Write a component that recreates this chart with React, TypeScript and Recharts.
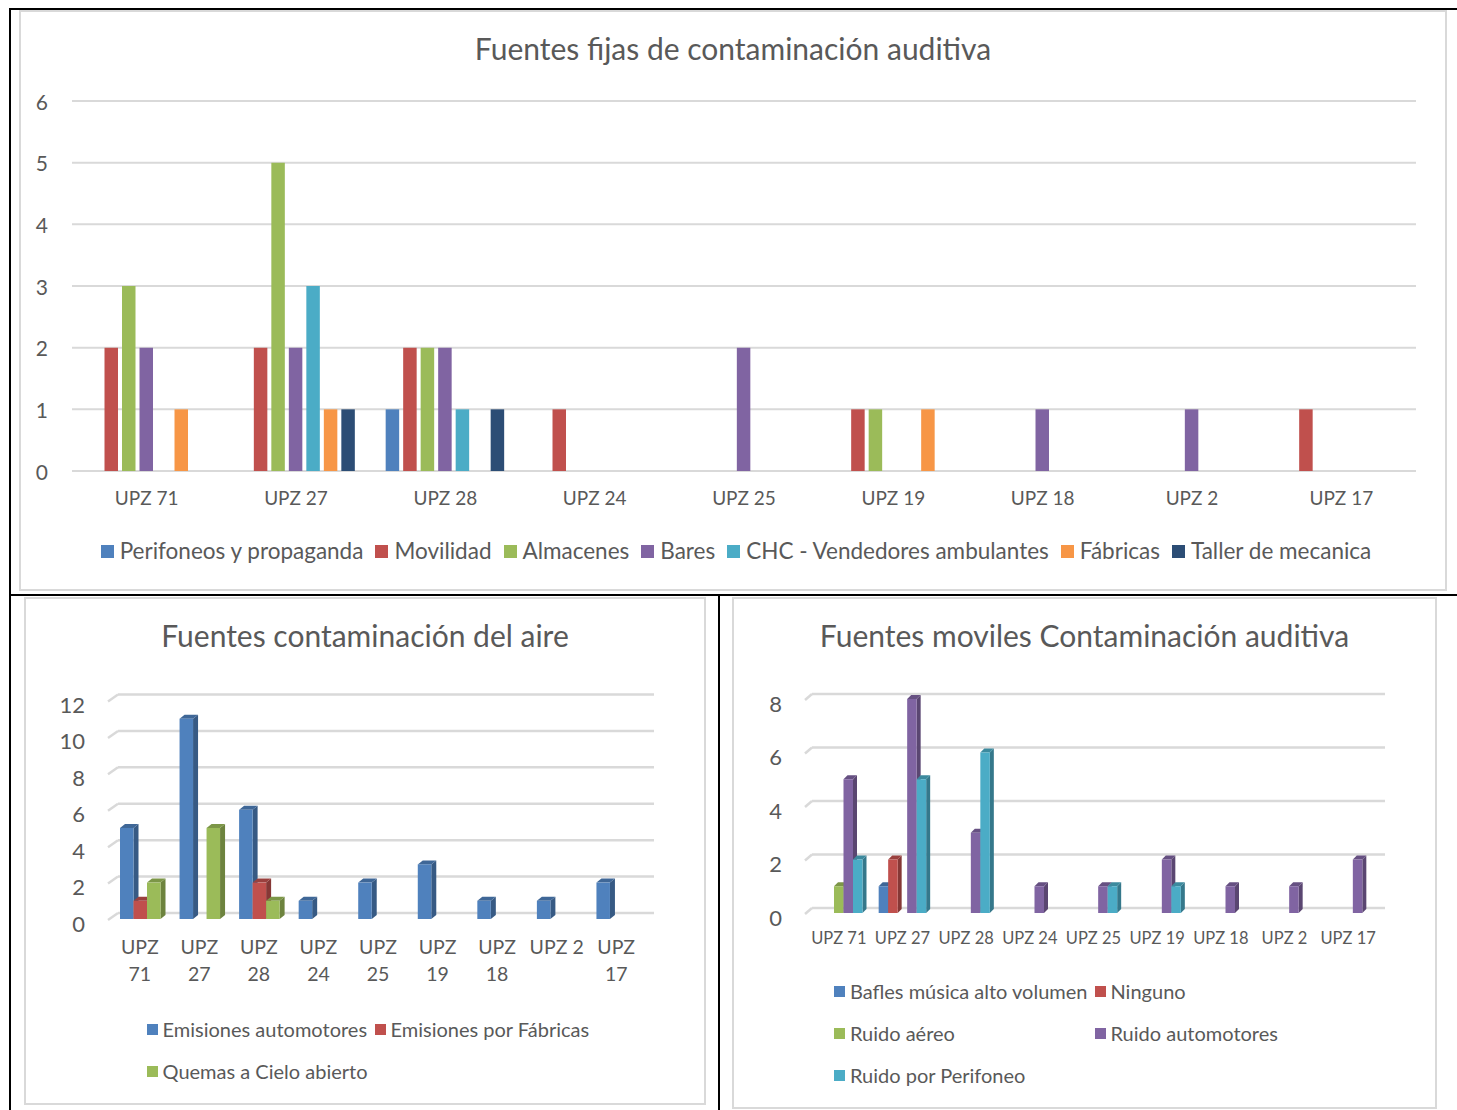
import React from 'react';
import { BarChart, Bar, XAxis, YAxis, CartesianGrid, Legend } from 'recharts';

const FONT = 'Lato, Carlito, Calibri, "Noto Sans", sans-serif';
const TEXT_COLOR = '#595959';
const GRID_COLOR = '#d9d9d9';

// ---------- shared categories ----------
const categories = ['UPZ 71', 'UPZ 27', 'UPZ 28', 'UPZ 24', 'UPZ 25', 'UPZ 19', 'UPZ 18', 'UPZ 2', 'UPZ 17'];

// ---------- chart 1: Fuentes fijas ----------
const fijasTitle = 'Fuentes fijas de contaminación auditiva';
const fijasNames = ['Perifoneos y propaganda', 'Movilidad', 'Almacenes', 'Bares', 'CHC - Vendedores ambulantes', 'Fábricas', 'Taller de mecanica'];
const fijasColors = ['#4F81BD', '#C0504D', '#9BBB59', '#8064A2', '#4BACC6', '#F79646', '#2C4D75'];
const perifoneos = [0, 0, 1, 0, 0, 0, 0, 0, 0];
const movilidad = [2, 2, 2, 1, 0, 1, 0, 0, 1];
const almacenes = [3, 5, 2, 0, 0, 1, 0, 0, 0];
const bares = [2, 2, 2, 0, 2, 0, 1, 1, 0];
const chcVendedores = [0, 3, 1, 0, 0, 0, 0, 0, 0];
const fabricas = [1, 1, 0, 0, 0, 1, 0, 0, 0];
const tallerMecanica = [0, 1, 1, 0, 0, 0, 0, 0, 0];
const fijasTicks = [0, 1, 2, 3, 4, 5, 6];

// ---------- chart 2: Fuentes contaminación del aire ----------
const aireTitle = 'Fuentes contaminación del aire';
const aireNames = ['Emisiones automotores', 'Emisiones por Fábricas', 'Quemas a Cielo abierto'];
const aireColors = ['#4F81BD', '#C0504D', '#9BBB59'];
const emisionesAutomotores = [5, 11, 6, 1, 2, 3, 1, 1, 2];
const emisionesFabricas = [1, 0, 2, 0, 0, 0, 0, 0, 0];
const quemasCielo = [2, 5, 1, 0, 0, 0, 0, 0, 0];
const aireTicks = [0, 2, 4, 6, 8, 10, 12];

// ---------- chart 3: Fuentes moviles ----------
const movilesTitle = 'Fuentes moviles Contaminación auditiva';
const movilesNames = ['Bafles música alto volumen', 'Ninguno', 'Ruido aéreo', 'Ruido automotores', 'Ruido por Perifoneo'];
const movilesColors = ['#4F81BD', '#C0504D', '#9BBB59', '#8064A2', '#4BACC6'];
const bafles = [0, 1, 0, 0, 0, 0, 0, 0, 0];
const ninguno = [0, 2, 0, 0, 0, 0, 0, 0, 0];
const ruidoAereo = [1, 0, 0, 0, 0, 0, 0, 0, 0];
const ruidoAutomotores = [5, 8, 3, 1, 1, 2, 1, 1, 2];
const ruidoPerifoneo = [2, 5, 6, 0, 1, 1, 0, 0, 0];
const movilesTicks = [0, 2, 4, 6, 8];

const buildRows = (series: number[][]) =>
  categories.map((upz, i) => {
    const row: any = { upz };
    series.forEach((s, j) => {
      row['s' + j] = s[i];
    });
    return row;
  });

const fijasData = buildRows([perifoneos, movilidad, almacenes, bares, chcVendedores, fabricas, tallerMecanica]);
const aireData = buildRows([emisionesAutomotores, emisionesFabricas, quemasCielo]);
const movilesData = buildRows([bafles, ninguno, ruidoAereo, ruidoAutomotores, ruidoPerifoneo]);

// ---------- helpers ----------
const shade = (hex: string, f: number) => {
  const n = parseInt(hex.slice(1), 16);
  const r = Math.round(((n >> 16) & 255) * f);
  const g = Math.round(((n >> 8) & 255) * f);
  const b = Math.round((n & 255) * f);
  return `rgb(${r},${g},${b})`;
};

const bar3D = (dx: number, dy: number) => (props: any) => {
  const { x, y, width, height, fill } = props;
  if (!height || height <= 0 || !width) return <g />;
  const side = shade(fill, 0.7);
  const top = shade(fill, 0.8);
  return (
    <g>
      <polygon
        points={`${x + width},${y} ${x + width + dx},${y - dy} ${x + width + dx},${y + height - dy} ${x + width},${y + height}`}
        fill={side}
      />
      <polygon points={`${x},${y} ${x + dx},${y - dy} ${x + width + dx},${y - dy} ${x + width},${y}`} fill={top} />
      <rect x={x} y={y} width={width} height={height} fill={fill} />
    </g>
  );
};

const grid3D = (dx: number, dy: number, sw: number) => (props: any) => {
  const { x1, y1, x2, y2, index } = props;
  return (
    <g key={'g3d-' + index + '-' + y1}>
      <line x1={x1 - 2} y1={y1 + 1} x2={x1 + dx} y2={y1 - dy} stroke={GRID_COLOR} strokeWidth={sw} />
      <line x1={x1 + dx} y1={y1 - dy} x2={x2 + dx} y2={y2 - dy} stroke={GRID_COLOR} strokeWidth={sw} />
    </g>
  );
};

const yTick = (fontSize: number, shift: number) => (props: any) => (
  <text
    x={props.x}
    y={props.y + shift}
    textAnchor="end"
    dominantBaseline="central"
    fill={TEXT_COLOR}
    fontSize={fontSize}
    fontFamily={FONT}
  >
    {props.payload.value}
  </text>
);

const xTick = (fontSize: number, lineHeight: number, maxChars: number) => (props: any) => {
  const { x, y, payload } = props;
  const label = String(payload.value);
  const lines = label.length > maxChars ? label.split(' ') : [label];
  return (
    <text x={x} y={y} textAnchor="middle" fill={TEXT_COLOR} fontSize={fontSize} fontFamily={FONT}>
      {lines.map((l, i) => (
        <tspan key={i} x={x} dy={i === 0 ? '0.71em' : lineHeight}>
          {l}
        </tspan>
      ))}
    </text>
  );
};

const makeLegend =
  (names: string[], cols: number, fontSize: number, square: number, rowHeight: number, colGap: number, textGap: number) =>
  (props: any) => {
    const payload = [...(props.payload || [])].sort((a: any, b: any) => names.indexOf(a.value) - names.indexOf(b.value));
    const items = payload.map((p: any) => (
      <div key={p.value} style={{ display: 'flex', alignItems: 'center', height: rowHeight, whiteSpace: 'nowrap' }}>
        <span style={{ display: 'inline-block', width: square, height: square, background: p.color, marginRight: textGap, flex: 'none' }} />
        <span style={{ fontSize, color: TEXT_COLOR, lineHeight: 1 }}>{p.value}</span>
      </div>
    ));
    return (
      <div style={{ display: 'flex', justifyContent: 'center', fontFamily: FONT }}>
        {cols > 0 ? (
          <div style={{ display: 'inline-grid', gridTemplateColumns: `repeat(${cols}, 1fr)`, columnGap: colGap }}>{items}</div>
        ) : (
          <div style={{ display: 'flex', columnGap: colGap }}>{items}</div>
        )}
      </div>
    );
  };

const Box = ({ left, top, width, height, title, titleSize, children }: any) => (
  <div style={{ position: 'absolute', left, top, width, height }}>
    <div
      style={{
        position: 'absolute',
        left: 0,
        top: 0,
        width,
        height,
        boxSizing: 'border-box',
        border: `2px solid ${GRID_COLOR}`,
      }}
    />
    <svg style={{ position: 'absolute', left: 0, top: 0 }} width={width} height={80}>
      <text x={width / 2} y={50} textAnchor="middle" fill={TEXT_COLOR} fontSize={titleSize} fontFamily={FONT}>
        {title}
      </text>
    </svg>
    <div style={{ position: 'absolute', left: 0, top: 0 }}>{children}</div>
  </div>
);

const Line = ({ left, top, width, height }: any) => (
  <div style={{ position: 'absolute', left, top, width, height, background: '#000' }} />
);

export default function App() {
  return (
    <div style={{ position: 'absolute', left: 0, top: 0, width: 1457, height: 1110, background: '#fff', overflow: 'hidden' }}>
      {/* table lines */}
      <Line left={9} top={8} width={1448} height={2} />
      <Line left={9} top={594} width={1448} height={2} />
      <Line left={9} top={8} width={2} height={1102} />
      <Line left={718} top={594} width={2} height={516} />

      {/* Chart 1 */}
      <Box left={19} top={10} width={1428} height={581} title={fijasTitle} titleSize={30}>
        <BarChart
          width={1428}
          height={581}
          data={fijasData}
          margin={{ top: 91, right: 31, left: 0, bottom: 25 }}
          barGap={4}
        >
          <CartesianGrid vertical={false} stroke={GRID_COLOR} strokeWidth={2} />
          <XAxis
            dataKey="upz"
            axisLine={false}
            tickLine={false}
            tickSize={0}
            tickMargin={21}
            height={65}
            interval={0}
            tick={xTick(19, 24, 99)}
          />
          <YAxis
            domain={[0, 6]}
            ticks={fijasTicks}
            axisLine={false}
            tickLine={false}
            tickSize={0}
            tickMargin={24}
            width={53}
            tick={yTick(21, 0)}
          />
          <Legend
            verticalAlign="bottom"
            wrapperStyle={{ left: 0, width: 1434 }}
            content={makeLegend(fijasNames, 0, 22.5, 13, 30, 12, 6)}
          />
          {fijasNames.map((n, j) => (
            <Bar key={n} dataKey={'s' + j} name={n} fill={fijasColors[j]} barSize={13.5} isAnimationActive={false} />
          ))}
        </BarChart>
      </Box>

      {/* Chart 2 */}
      <Box left={24} top={597} width={682} height={508} title={aireTitle} titleSize={30}>
        <BarChart
          width={682}
          height={508}
          data={aireData}
          margin={{ top: 103.5, right: 60, left: 0, bottom: 13 }}
          barGap={0}
        >
          <CartesianGrid vertical={false} horizontal={grid3D(8, 6, 2.5)} />
          <XAxis
            dataKey="upz"
            axisLine={false}
            tickLine={false}
            tickSize={0}
            tickMargin={21}
            height={89}
            interval={0}
            tick={xTick(19.5, 27, 5)}
          />
          <YAxis
            domain={[0, 12]}
            ticks={aireTicks}
            axisLine={false}
            tickLine={false}
            tickSize={0}
            tickMargin={25}
            width={86}
            tick={yTick(22, 4)}
          />
          <Legend
            verticalAlign="bottom"
            wrapperStyle={{ left: 20, width: 654 }}
            content={makeLegend(aireNames, 2, 20, 11, 42, 7, 5)}
          />
          {aireNames.map((n, j) => (
            <Bar key={n} dataKey={'s' + j} name={n} fill={aireColors[j]} barSize={13.5} shape={bar3D(5, 4)} isAnimationActive={false} />
          ))}
        </BarChart>
      </Box>

      {/* Chart 3 */}
      <Box left={732} top={597} width={705} height={512} title={movilesTitle} titleSize={30}>
        <BarChart
          width={705}
          height={512}
          data={movilesData}
          margin={{ top: 102, right: 57, left: 0, bottom: 13 }}
          barGap={0}
        >
          <CartesianGrid vertical={false} horizontal={grid3D(5, 5, 2.5)} />
          <XAxis
            dataKey="upz"
            axisLine={false}
            tickLine={false}
            tickSize={0}
            tickMargin={19}
            height={57}
            interval={0}
            tick={xTick(16.5, 24, 99)}
          />
          <YAxis
            domain={[0, 8]}
            ticks={movilesTicks}
            axisLine={false}
            tickLine={false}
            tickSize={0}
            tickMargin={25}
            width={75}
            tick={yTick(22, 4)}
          />
          <Legend
            verticalAlign="bottom"
            wrapperStyle={{ left: 20, width: 678 }}
            content={makeLegend(movilesNames, 2, 20, 11, 42, 7, 5)}
          />
          {movilesNames.map((n, j) => (
            <Bar key={n} dataKey={'s' + j} name={n} fill={movilesColors[j]} barSize={9.5} shape={bar3D(4, 4)} isAnimationActive={false} />
          ))}
        </BarChart>
      </Box>
    </div>
  );
}
